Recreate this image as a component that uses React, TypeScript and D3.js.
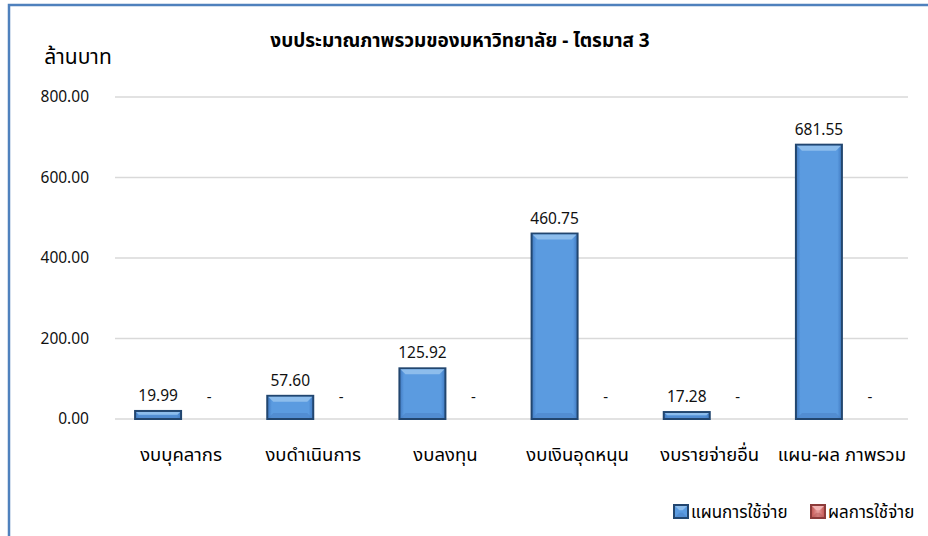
import React from "react";
import * as d3 from "d3";

const width = 928;
const height = 536;
const margin = { top: 97, right: 20, bottom: 117, left: 115 };
const font = "'Noto Sans', 'Noto Sans Thai', Tahoma, sans-serif";

// data
const categories = [
  "งบบุคลากร",
  "งบดำเนินการ",
  "งบลงทุน",
  "งบเงินอุดหนุน",
  "งบรายจ่ายอื่น",
  "แผน-ผล ภาพรวม",
];
const planValues = [19.99, 57.6, 125.92, 460.75, 17.28, 681.55];
const actualValues = [0, 0, 0, 0, 0, 0];
const seriesNames = ["แผนการใช้จ่าย", "ผลการใช้จ่าย"];
const yTicks = [0, 200, 400, 600, 800];
const title = "งบประมาณภาพรวมของมหาวิทยาลัย - ไตรมาส 3";
const yUnit = "ล้านบาท";

const fmt = (v: number) => (v === 0 ? "-" : d3.format(",.2f")(v));

function Bar({ x, y, w, h, kind }: { x: number; y: number; w: number; h: number; kind: "blue" | "red" }) {
  if (h <= 0) return null;
  const bev = Math.min(5, h / 3);
  const fill = kind === "blue" ? "url(#gBlue)" : "url(#gRed)";
  const edge = kind === "blue" ? "#22466f" : "#8c3b3a";
  const light = kind === "blue" ? "#8dbdec" : "#f2b4b3";
  const dark = kind === "blue" ? "#4a80c4" : "#b55856";
  return (
    <g>
      <rect x={x} y={y} width={w} height={h} fill={fill} stroke={edge} strokeWidth={2} />
      <polygon
        points={`${x + 1},${y + 1} ${x + w - 1},${y + 1} ${x + w - 1 - bev},${y + 1 + bev} ${x + 1 + bev},${y + 1 + bev}`}
        fill={light}
      />
      <polygon
        points={`${x + 1},${y + h - 1} ${x + w - 1},${y + h - 1} ${x + w - 1 - bev},${y + h - 1 - bev} ${x + 1 + bev},${y + h - 1 - bev}`}
        fill={dark}
        opacity={0.5}
      />
    </g>
  );
}

export default function App() {
  const x0 = d3
    .scaleBand()
    .domain(categories)
    .range([margin.left, width - margin.right])
    .paddingInner(0)
    .paddingOuter(0);
  const barW = 46;
  const y = d3
    .scaleLinear()
    .domain([0, 800])
    .range([height - margin.bottom, margin.top]);
  const cx = (c: string) => (x0(c) as number) + x0.bandwidth() / 2;

  return (
    <svg
      width={width}
      height={height}
      style={{ position: "absolute", left: 0, top: 0, background: "#fff" }}
      fontFamily={font}
    >
      <defs>
        <linearGradient id="gBlue" x1="0" x2="1" y1="0" y2="0">
          <stop offset="0" stopColor="#3f78c0" />
          <stop offset="0.1" stopColor="#5b9be0" />
          <stop offset="0.9" stopColor="#5b9be0" />
          <stop offset="1" stopColor="#3f78c0" />
        </linearGradient>
        <linearGradient id="gRed" x1="0" x2="1" y1="0" y2="0">
          <stop offset="0" stopColor="#c0504d" />
          <stop offset="0.5" stopColor="#e8a09e" />
          <stop offset="1" stopColor="#c0504d" />
        </linearGradient>
      </defs>

      {/* outer frame */}
      <rect x={9} y={5} width={width + 20} height={height + 20} fill="none" stroke="#4f81bd" strokeWidth={2.5} />

      <text x={460} y={47} textAnchor="middle" fontSize={19} fontWeight="bold" fill="#000">
        {title}
      </text>
      <text x={78} y={64} textAnchor="middle" fontSize={21} fill="#000">
        {yUnit}
      </text>

      {/* grid + y labels */}
      {yTicks.map((t) => (
        <g key={t}>
          <line x1={margin.left} x2={width - margin.right} y1={y(t)} y2={y(t)} stroke="#d9d9d9" strokeWidth={1.5} />
          <text x={89} y={y(t) + 5} textAnchor="end" fontSize={15.5} fill="#111">
            {d3.format(".2f")(t)}
          </text>
        </g>
      ))}

      {categories.map((c, i) => {
        const c0 = cx(c);
        const v = planValues[i];
        const a = actualValues[i];
        return (
          <g key={c}>
            <Bar x={c0 - barW} y={y(v)} w={barW} h={y(0) - y(v)} kind="blue" />
            <Bar x={c0} y={y(a)} w={barW} h={y(0) - y(a)} kind="red" />
            <text x={c0 - barW / 2} y={y(v) - 10} textAnchor="middle" fontSize={15.5} fill="#111">
              {fmt(v)}
            </text>
            <text x={c0 + 28} y={y(a) - 17} textAnchor="middle" fontSize={15} fill="#111">
              {fmt(a)}
            </text>
            <text x={c0} y={461} textAnchor="middle" fontSize={18.5} fill="#000">
              {c}
            </text>
          </g>
        );
      })}

      {/* legend */}
      {seriesNames.map((s, i) => {
        const lx = 674 + i * 137;
        return (
          <g key={s}>
            <Bar x={lx} y={505} w={14} h={13} kind={i === 0 ? "blue" : "red"} />
            <text x={lx + 17} y={518} fontSize={17} fill="#000">
              {s}
            </text>
          </g>
        );
      })}
    </svg>
  );
}
